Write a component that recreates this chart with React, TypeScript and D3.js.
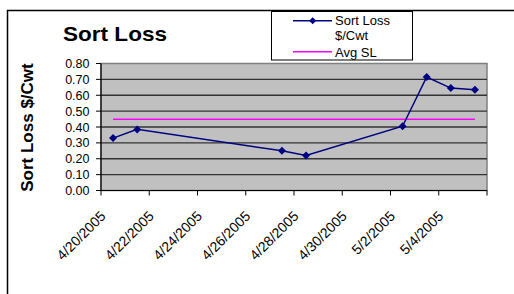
import * as d3 from "d3";

const dates = ["2005-04-20", "2005-04-21", "2005-04-27", "2005-04-28", "2005-05-02", "2005-05-03", "2005-05-04", "2005-05-05"];
const sortLoss = [0.33, 0.385, 0.25, 0.22, 0.405, 0.715, 0.645, 0.635];
const yTicks = [0, 0.1, 0.2, 0.3, 0.4, 0.5, 0.6, 0.7, 0.8];
const xTickDates = ["2005-04-20", "2005-04-22", "2005-04-24", "2005-04-26", "2005-04-28", "2005-04-30", "2005-05-02", "2005-05-04", "2005-05-06"];
const xTickLabels = ["4/20/2005", "4/22/2005", "4/24/2005", "4/26/2005", "4/28/2005", "4/30/2005", "5/2/2005", "5/4/2005", ""];

const FONT = "Arial, 'Liberation Sans', sans-serif";
const NAVY = "#000080";
const PINK = "#FF00FF";

const parse = (s: string) => {
  const [y, m, d] = s.split("-").map(Number);
  return new Date(y, m - 1, d);
};

export default function App() {
  const plot = { left: 101, right: 487, top: 63.5, bottom: 190.5 };

  const xScale = d3
    .scaleTime()
    .domain([parse("2005-04-20"), parse("2005-05-06")])
    .range([plot.left, plot.right]);
  const yScale = d3.scaleLinear().domain([0, 0.8]).range([plot.bottom, plot.top]);

  // points sit in the middle of their day
  const mid = (s: string) => xScale(d3.timeHour.offset(parse(s), 12));
  const avg = d3.mean(sortLoss) || 0;

  const line = d3
    .line<number>()
    .x((_, i) => mid(dates[i]))
    .y((d) => yScale(d));
  const avgLine = d3
    .line<string>()
    .x((d) => mid(d))
    .y(() => yScale(avg));

  const diamond = (cx: number, cy: number, r: number) =>
    `M${cx},${cy - r}L${cx + r},${cy}L${cx},${cy + r}L${cx - r},${cy}Z`;

  return (
    <svg width={514} height={294} style={{ position: "absolute", left: 0, top: 0 }} fontFamily={FONT}>
      <rect x={0} y={0} width={514} height={294} fill="#fff" />
      <rect x={7.5} y={10.5} width={520} height={300} fill="#fff" stroke="#000" strokeWidth={1.5} />

      <text x={63} y={40.5} fontSize={21} fontWeight="bold" textLength={104} lengthAdjust="spacingAndGlyphs">
        Sort Loss
      </text>

      {/* plot area */}
      <rect
        x={plot.left}
        y={plot.top}
        width={plot.right - plot.left}
        height={plot.bottom - plot.top}
        fill="#C0C0C0"
        stroke="#808080"
        strokeWidth={1.5}
      />
      {yTicks.slice(1, -1).map((t) => (
        <line key={t} x1={plot.left} x2={plot.right} y1={yScale(t)} y2={yScale(t)} stroke="#333" strokeWidth={1.4} />
      ))}

      {/* y axis */}
      <line x1={plot.left} x2={plot.left} y1={plot.top} y2={plot.bottom} stroke="#000" strokeWidth={1.2} />
      {yTicks.map((t) => (
        <g key={t}>
          <line x1={plot.left - 5} x2={plot.left} y1={yScale(t)} y2={yScale(t)} stroke="#000" />
          <text x={89.5} y={yScale(t)} dy="0.36em" textAnchor="end" fontSize={12.5}>
            {t.toFixed(2)}
          </text>
        </g>
      ))}

      {/* x axis */}
      <line x1={plot.left} x2={plot.right} y1={plot.bottom} y2={plot.bottom} stroke="#000" strokeWidth={1.2} />
      {xTickDates.map((d, i) => {
        const x = xScale(parse(d));
        return (
          <g key={d}>
            <line x1={x} x2={x} y1={plot.bottom} y2={plot.bottom + 5} stroke="#000" />
            {xTickLabels[i] && (
              <text
                transform={`translate(${x + 5.5},${plot.bottom + 26.5}) rotate(-45)`}
                textAnchor="end"
                fontSize={14}
              >
                {xTickLabels[i]}
              </text>
            )}
          </g>
        );
      })}

      <text
        transform="translate(33,127.5) rotate(-90)"
        textAnchor="middle"
        fontSize={17}
        fontWeight="bold"
      >
        Sort Loss $/Cwt
      </text>

      {/* series */}
      <path d={avgLine(dates) || ""} fill="none" stroke={PINK} strokeWidth={1.5} />
      <path d={line(sortLoss) || ""} fill="none" stroke={NAVY} strokeWidth={1.5} />
      {sortLoss.map((v, i) => (
        <path key={i} d={diamond(mid(dates[i]), yScale(v), 4)} fill={NAVY} />
      ))}

      {/* legend */}
      <rect x={271.5} y={11.5} width={141} height={48.5} fill="#fff" stroke="#000" strokeWidth={1} />
      <line x1={293} x2={332} y1={20.7} y2={20.7} stroke={NAVY} strokeWidth={1.5} />
      <path d={diamond(312.7, 20.7, 3.5)} fill={NAVY} />
      <text x={335} y={25.3} fontSize={13}>Sort Loss</text>
      <text x={335} y={40.3} fontSize={13}>$/Cwt</text>
      <line x1={293} x2={332} y1={51.7} y2={51.7} stroke={PINK} strokeWidth={1.5} />
      <text x={335} y={56.5} fontSize={13}>Avg SL</text>
    </svg>
  );
}
